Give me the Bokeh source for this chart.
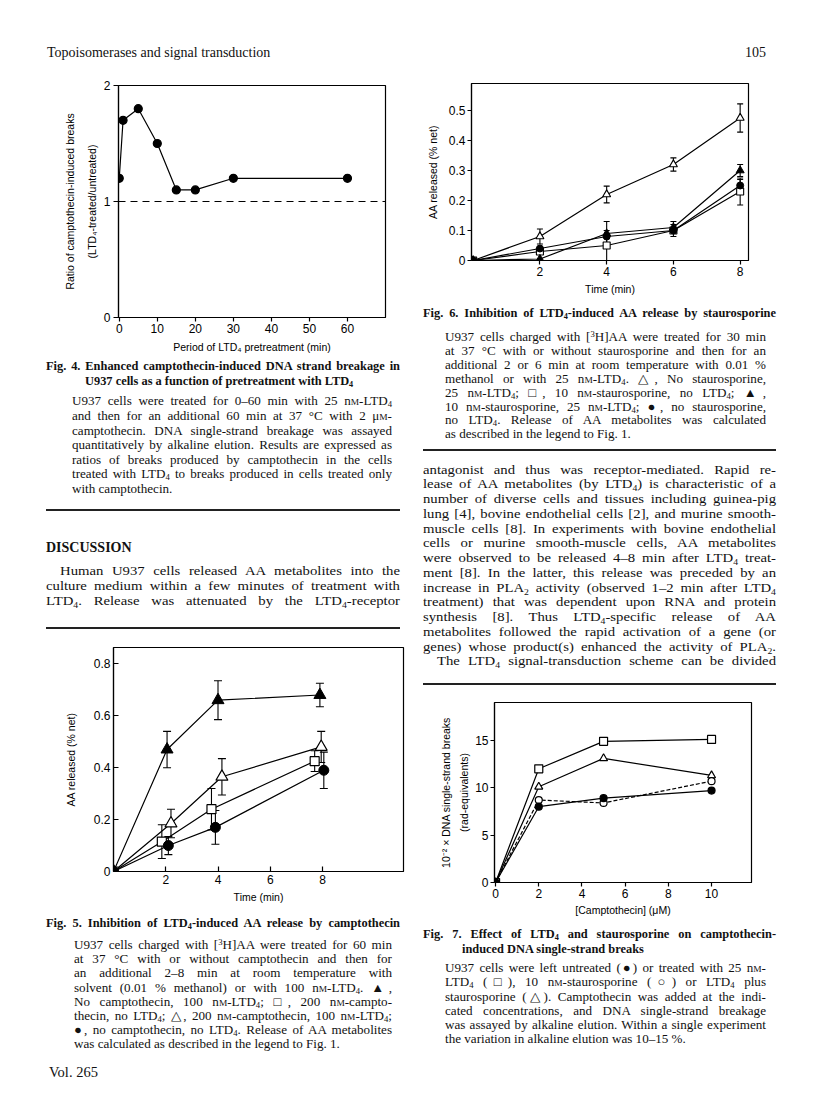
from bokeh.plotting import figure
from bokeh.models import Range1d, FixedTicker, Span, Whisker, TeeHead, ColumnDataSource, Div
from bokeh.layouts import row, column
from bokeh.embed import file_html
from bokeh.resources import INLINE

# ---------------- data ----------------
# Fig. 4
fig4_time = [0, 1, 5, 10, 15, 20, 30, 60]
fig4_ratio = [1.2, 1.7, 1.8, 1.5, 1.1, 1.1, 1.2, 1.2]
fig4_baseline = 1.0
fig4_xticks = [0, 10, 20, 30, 40, 50, 60]
fig4_yticks = [0, 1, 2]

# Fig. 5 (time, value, error) per series
fig5_ltd4_x = [0, 2.05, 4.0, 7.9]
fig5_ltd4_y = [0, 0.47, 0.66, 0.68]
fig5_ltd4_err = [0, 0.07, 0.075, 0.045]
fig5_both_x = [0, 2.2, 4.15, 7.95]
fig5_both_y = [0, 0.185, 0.365, 0.48]
fig5_both_err = [0, 0.055, 0.07, 0.06]
fig5_campto_x = [0, 1.85, 3.75, 7.7]
fig5_campto_y = [0, 0.115, 0.24, 0.425]
fig5_campto_err = [0, 0.065, 0.08, 0.04]
fig5_none_x = [0, 2.1, 3.9, 8.05]
fig5_none_y = [0, 0.10, 0.17, 0.39]
fig5_none_err = [0, 0.035, 0.065, 0.07]
fig5_xticks = [2, 4, 6, 8]
fig5_yticks = [0, 0.2, 0.4, 0.6, 0.8]

# Fig. 6
fig6_time = [0, 2, 4, 6, 8]
fig6_ltd4 = [0, 0.08, 0.22, 0.32, 0.475]
fig6_ltd4_err = [0, 0.025, 0.028, 0.022, 0.047]
fig6_stauro = [0, 0.03, 0.05, 0.10, 0.23]
fig6_stauro_err = [0, 0, 0.05, 0.02, 0.045]
fig6_both = [0, 0.005, 0.09, 0.11, 0.30]
fig6_both_err = [0, 0, 0.04, 0.02, 0.02]
fig6_none = [0, 0.04, 0.08, 0.10, 0.25]
fig6_none_err = [0, 0, 0, 0, 0.02]
fig6_xticks = [2, 4, 6, 8]
fig6_yticks = [0, 0.1, 0.2, 0.3, 0.4, 0.5]

# Fig. 7
fig7_conc = [0, 2, 5, 10]
fig7_ltd4 = [0, 12.0, 14.9, 15.1]
fig7_both = [0, 10.1, 13.1, 11.3]
fig7_stauro = [0, 8.7, 8.4, 10.7]
fig7_untreated = [0, 8.0, 8.9, 9.7]
fig7_xticks = [0, 2, 4, 6, 8, 10]
fig7_yticks = [0, 5, 10, 15]

SANS = "Liberation Sans"
SERIF = "Liberation Serif"


def make_fig(width, height, xr, yr, left, right, top, bottom, mleft):
    p = figure(width=width, height=height, x_range=Range1d(*xr), y_range=Range1d(*yr),
               output_backend="svg", toolbar_location=None,
               min_border_left=left, min_border_right=right,
               min_border_top=top, min_border_bottom=bottom,
               background_fill_color="white", border_fill_color="white",
               margin=(0, 0, 0, mleft))
    p.outline_line_color = "black"
    p.outline_line_width = 1.2
    p.grid.visible = False
    for ax in (p.xaxis[0], p.yaxis[0]):
        ax.axis_line_color = "black"
        ax.axis_line_width = 1.2
        ax.major_tick_line_color = "black"
        ax.major_tick_line_width = 1.2
        ax.minor_tick_line_color = None
        ax.major_label_text_font = SANS
        ax.major_label_text_font_size = "12px"
        ax.major_label_text_color = "black"
        ax.axis_label_text_font = SANS
        ax.axis_label_text_font_size = "10.5px"
        ax.axis_label_text_font_style = "normal"
        ax.axis_label_text_color = "black"
    return p


def set_axis(ax, ticks, tick_in, tick_out, lab_std, axlab_std, label, lh=None):
    ax.ticker = FixedTicker(ticks=ticks)
    ax.major_tick_in = tick_in
    ax.major_tick_out = tick_out
    ax.major_label_standoff = lab_std
    ax.axis_label_standoff = axlab_std
    ax.axis_label = label
    if lh is not None:
        ax.axis_label_text_line_height = lh


def add_err(p, xs, ys, errs, head):
    pts = [(x, y, e) for x, y, e in zip(xs, ys, errs) if e > 0]
    src = ColumnDataSource(dict(x=[a for a, _, _ in pts],
                                upper=[b + c for _, b, c in pts],
                                lower=[b - c for _, b, c in pts]))
    p.add_layout(Whisker(source=src, base="x", upper="upper", lower="lower",
                         line_color="black", line_width=1.1,
                         upper_head=TeeHead(size=head, line_color="black", line_width=1.1),
                         lower_head=TeeHead(size=head, line_color="black", line_width=1.1)))


def series(p, xs, ys, marker, filled, size, dash="solid"):
    p.line(xs, ys, line_color="black", line_width=1.2, line_dash=dash)
    p.scatter(xs, ys, marker=marker, size=size, line_color="black", line_width=1.2,
              fill_color="black" if filled else "white")


# ---------------- Fig. 4 (frame x 118-385, y 85-317) ----------------
p4 = make_fig(372, 288, (-0.2, 70), (0, 2), 100, 5, 15, 41, 10)
set_axis(p4.xaxis[0], fig4_xticks, 0, 4, 2, 5, "Period of LTD\u2084 pretreatment (min)")
set_axis(p4.yaxis[0], fig4_yticks, 0, 5, 3, 3,
         "Ratio of camptothecin-induced breaks\n(LTD\u2084-treated/untreated)", lh=1.8)
p4.add_layout(Span(location=fig4_baseline, dimension="width", line_color="black",
                   line_width=1.2, line_dash="7 5"))
series(p4, fig4_time, fig4_ratio, "circle", True, 8)

# ---------------- Fig. 5 (frame x 113-403, y 647-871) ----------------
p5 = make_fig(395, 272, (0, 11.1), (0, 0.863), 100, 5, 11, 37, 5)
set_axis(p5.xaxis[0], fig5_xticks, 5, 0, 3, 4, "Time (min)")
set_axis(p5.yaxis[0], fig5_yticks, 5, 0, 3, 14, "AA released (% net)")
for xs, ys, es in [(fig5_ltd4_x, fig5_ltd4_y, fig5_ltd4_err), (fig5_both_x, fig5_both_y, fig5_both_err),
                   (fig5_campto_x, fig5_campto_y, fig5_campto_err), (fig5_none_x, fig5_none_y, fig5_none_err)]:
    p5.line(xs, ys, line_color="black", line_width=1.2)
    add_err(p5, xs, ys, es, 8)
p5.scatter(fig5_ltd4_x, fig5_ltd4_y, marker="triangle", size=12, fill_color="black", line_color="black")
p5.scatter(fig5_both_x, fig5_both_y, marker="triangle", size=12, fill_color="white", line_color="black", line_width=1.2)
p5.scatter(fig5_campto_x, fig5_campto_y, marker="square", size=9, fill_color="white", line_color="black", line_width=1.2)
p5.scatter(fig5_none_x, fig5_none_y, marker="circle", size=10, fill_color="black", line_color="black")

# ---------------- Fig. 6 (frame x 471-748, y 83-260) ----------------
p6 = make_fig(357, 230, (-0.05, 8.25), (0, 0.59), 60, 20, 13, 40, 3)
set_axis(p6.xaxis[0], fig6_xticks, 0, 4, 2, 4, "Time (min)")
set_axis(p6.yaxis[0], fig6_yticks, 0, 4, 2, 7, "AA released (% net)")
for ys, es in [(fig6_ltd4, fig6_ltd4_err), (fig6_stauro, fig6_stauro_err),
               (fig6_both, fig6_both_err), (fig6_none, fig6_none_err)]:
    p6.line(fig6_time, ys, line_color="black", line_width=1.2)
    add_err(p6, fig6_time, ys, es, 6)
p6.scatter(fig6_time, fig6_ltd4, marker="triangle", size=8, fill_color="white", line_color="black", line_width=1.1)
p6.scatter(fig6_time, fig6_stauro, marker="square", size=7, fill_color="white", line_color="black", line_width=1.1)
p6.scatter(fig6_time, fig6_both, marker="triangle", size=8, fill_color="black", line_color="black")
p6.scatter(fig6_time, fig6_none, marker="circle", size=7, fill_color="black", line_color="black")

# ---------------- Fig. 7 (frame x 494-751, y 702-882) ----------------
p7 = make_fig(337, 232, (-0.05, 11.85), (0, 19), 60, 20, 12, 40, 26)
set_axis(p7.xaxis[0], fig7_xticks, 0, 4, 2, 3, "[Camptothecin] (\u03bcM)")
set_axis(p7.yaxis[0], fig7_yticks, 0, 4, 2, 2,
         "10\u207b\u00b2 \u00d7 DNA single-strand breaks\n(rad-equivalents)", lh=1.52)
series(p7, fig7_conc, fig7_ltd4, "square", False, 8)
series(p7, fig7_conc, fig7_both, "triangle", False, 8)
series(p7, fig7_conc, fig7_stauro, "circle", False, 7, dash="4 2")
series(p7, fig7_conc, fig7_untreated, "circle", True, 7)

# ---------------- text ----------------
def SUB(d):
    return f'<span style="font-size:0.66em;vertical-align:-0.3em;line-height:0">{d}</span>'


def SUP(d):
    return f'<span style="font-size:0.66em;vertical-align:0.5em;line-height:0">{d}</span>'


SC_M = '<span style="font-variant:small-caps">m</span>'


def fmt(s):
    s = s.replace("LTD_4", "LTD" + SUB("4")).replace("PLA_2", "PLA" + SUB("2"))
    s = s.replace("^3", SUP("3"))
    s = s.replace("nM", "n" + SC_M).replace("\u03bcM", "\u03bc" + SC_M)
    return s


def ln(cy, left, width, text, size, lh=16, just=True, bold=False, indent=0, sx=1.0):
    top = cy - lh / 2
    al = "justify" if just else "left"
    inner_w = width / sx
    st = (f"position:absolute;left:{left}px;top:{top:.2f}px;width:{inner_w:.2f}px;height:{lh}px;"
          f"font-family:'{SERIF}',serif;font-size:{size}px;line-height:{lh}px;"
          f"text-align:{al};text-align-last:{al};font-weight:{'bold' if bold else 'normal'};"
          f"text-indent:{indent / sx:.2f}px;color:#111;margin:0;padding:0;"
          f"transform:scaleX({sx});transform-origin:0 0;")
    return f'<div style="{st}">{fmt(text)}</div>'


def rule(cy, left, width, thick=1.6):
    return (f'<div style="position:absolute;left:{left}px;top:{cy - thick / 2:.1f}px;'
            f'width:{width}px;height:{thick}px;background:#222"></div>')


def block(height, items, width=400):
    inner = "".join(items)
    return Div(text=f'<div style="position:relative;width:{width}px;height:{height}px;overflow:hidden">{inner}</div>',
               width=width, height=height, margin=0)


header_left = "Topoisomerases and signal transduction"
header_right = "105"

fig4_title = ["Fig. 4. Enhanced camptothecin-induced DNA strand breakage in",
              "U937 cells as a function of pretreatment with LTD_4"]
fig4_caption = ["U937 cells were treated for 0\u201360 min with 25 nM-LTD_4",
                "and then for an additional 60 min at 37 \u00b0C with 2 \u03bcM-",
                "camptothecin. DNA single-strand breakage was assayed",
                "quantitatively by alkaline elution. Results are expressed as",
                "ratios of breaks produced by camptothecin in the cells",
                "treated with LTD_4 to breaks produced in cells treated only",
                "with camptothecin."]
discussion_head = "DISCUSSION"
discussion_left = ["Human U937 cells released AA metabolites into the",
                   "culture medium within a few minutes of treatment with",
                   "LTD_4. Release was attenuated by the LTD_4-receptor"]
fig5_title = "Fig. 5. Inhibition of LTD_4-induced AA release by camptothecin"
fig5_caption = ["U937 cells charged with [^3H]AA were treated for 60 min",
                "at 37 \u00b0C with or without camptothecin and then for",
                "an additional 2\u20138 min at room temperature with",
                "solvent (0.01 % methanol) or with 100 nM-LTD_4. \u25b2,",
                "No camptothecin, 100 nM-LTD_4; \u25a1, 200 nM-campto-",
                "thecin, no LTD_4; \u25b3, 200 nM-camptothecin, 100 nM-LTD_4;",
                "\u25cf, no camptothecin, no LTD_4. Release of AA metabolites",
                "was calculated as described in the legend to Fig. 1."]
footer = "Vol. 265"

fig6_title = "Fig. 6. Inhibition of LTD_4-induced AA release by staurosporine"
fig6_caption = ["U937 cells charged with [^3H]AA were treated for 30 min",
                "at 37 \u00b0C with or without staurosporine and then for an",
                "additional 2 or 6 min at room temperature with 0.01 %",
                "methanol or with 25 nM-LTD_4. \u25b3, No staurosporine,",
                "25 nM-LTD_4; \u25a1, 10 nM-staurosporine, no LTD_4; \u25b2,",
                "10 nM-staurosporine, 25 nM-LTD_4; \u25cf, no staurosporine,",
                "no LTD_4. Release of AA metabolites was calculated",
                "as described in the legend to Fig. 1."]
discussion_right = ["antagonist and thus was receptor-mediated. Rapid re-",
                    "lease of AA metabolites (by LTD_4) is characteristic of a",
                    "number of diverse cells and tissues including guinea-pig",
                    "lung [4], bovine endothelial cells [2], and murine smooth-",
                    "muscle cells [8]. In experiments with bovine endothelial",
                    "cells or murine smooth-muscle cells, AA metabolites",
                    "were observed to be released 4\u20138 min after LTD_4 treat-",
                    "ment [8]. In the latter, this release was preceded by an",
                    "increase in PLA_2 activity (observed 1\u20132 min after LTD_4",
                    "treatment) that was dependent upon RNA and protein",
                    "synthesis [8]. Thus LTD_4-specific release of AA",
                    "metabolites followed the rapid activation of a gene (or",
                    "genes) whose product(s) enhanced the activity of PLA_2.",
                    "The LTD_4 signal-transduction scheme can be divided"]
fig7_title = ["Fig. 7. Effect of LTD_4 and staurosporine on camptothecin-",
              "induced DNA single-strand breaks"]
fig7_caption = ["U937 cells were left untreated (\u25cf) or treated with 25 nM-",
                "LTD_4 (\u25a1), 10 nM-staurosporine (\u25cb) or LTD_4 plus",
                "staurosporine (\u25b3). Camptothecin was added at the indi-",
                "cated concentrations, and DNA single-strand breakage",
                "was assayed by alkaline elution. Within a single experiment",
                "the variation in alkaline elution was 10\u201315 %."]

BODY = 13.4
BODY_SX = 1.1
CAP = 12.6
CAP_SX = 1.04
TIT = 12.4

# left column blocks (page x origin 8)
L1 = block(62, [ln(53 - 8, 39, 340, header_left, 14, just=False)])

items = []
items.append(ln(366.7 - 358, 38, 354, fig4_title[0], TIT, lh=15, bold=True))
items.append(ln(381.7 - 358, 77, 315, fig4_title[1], TIT, lh=15, bold=True, just=False))
for i, t in enumerate(fig4_caption):
    last = i == len(fig4_caption) - 1
    items.append(ln(401.7 + i * 14.6 - 358, 64, 320, t, CAP, lh=14.6, just=not last, sx=CAP_SX))
items.append(rule(510 - 358, 38, 354))
items.append(ln(548 - 358, 38, 200, discussion_head, 14, bold=True, just=False))
for i, t in enumerate(discussion_left):
    items.append(ln(570 + i * 15 - 358, 38, 354, t, BODY, lh=15, indent=14 if i == 0 else 0, sx=BODY_SX))
items.append(rule(628 - 358, 38, 354))
L3 = block(278, items)

items = []
items.append(ln(923.3 - 908, 38, 354, fig5_title, TIT, bold=True))
for i, t in enumerate(fig5_caption):
    last = i == len(fig5_caption) - 1
    items.append(ln(945 + i * 14.2 - 908, 66, 318, t, CAP, lh=14.2, just=not last, sx=CAP_SX))
items.append(ln(1071.7 - 908, 41, 200, footer, 14.5, just=False))
L5 = block(181, items)

# right column blocks (page x origin 408)
R1 = block(62, [ln(53 - 8, 337, 40, header_right, 14, just=False)])

items = []
items.append(ln(313.3 - 300, 15, 353, fig6_title, TIT, bold=True))
for i, t in enumerate(fig6_caption):
    last = i == len(fig6_caption) - 1
    items.append(ln(338.3 + i * 13.85 - 300, 37, 321, t, CAP, lh=13.85, just=not last, sx=CAP_SX))
items.append(rule(450 - 300, 15, 353))
for i, t in enumerate(discussion_right):
    items.append(ln(470 + i * 14.75 - 300, 15, 353, t, BODY, lh=14.75,
                    indent=14 if i == 13 else 0, sx=BODY_SX))
items.append(rule(684 - 300, 15, 353))
R3 = block(390, items)

items = []
items.append(ln(934 - 922, 15, 353, fig7_title[0], TIT, lh=15, bold=True))
items.append(ln(949.5 - 922, 54, 314, fig7_title[1], TIT, lh=15, bold=True, just=False))
for i, t in enumerate(fig7_caption):
    last = i == len(fig7_caption) - 1
    items.append(ln(968.3 + i * 14.15 - 922, 37, 321, t, CAP, lh=14.15, just=not last, sx=CAP_SX))
R5 = block(167, items)

left = column(L1, p4, L3, p5, L5, spacing=0, width=400)
right = column(R1, p6, R3, p7, R5, spacing=0, width=400)
page = row(left, right, spacing=0, margin=(8, 8, 8, 8))

open("out.html", "w").write(file_html(page, INLINE, title="Topoisomerases and signal transduction"))
